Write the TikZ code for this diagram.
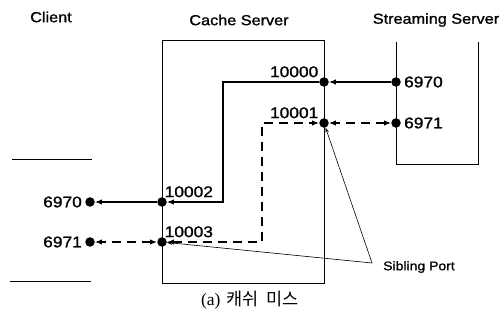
\documentclass[tikz,border=0pt]{standalone}
\usepackage{fontspec}
\setmainfont{Liberation Sans}
\newfontfamily\lblfont[FakeStretch=1.12,FakeBold=1.2]{Liberation Sans}
\newfontfamily\capserif{Liberation Serif}
\newfontfamily\kor{Noto Sans CJK KR}
\usetikzlibrary{arrows.meta}
\begin{document}
\begin{tikzpicture}[x=1pt,y=-1pt,
  title/.style={font=\lblfont\fontsize{14.5}{15}\selectfont},
  portlbl/.style={font=\lblfont\fontsize{15.5}{15}\selectfont,inner sep=1pt},
  port/.style={shape=circle,fill=black,inner sep=0pt,minimum size=9.5pt},
  box/.style={line width=0.8pt},
  flow/.style={line width=1.3pt,-{Latex[length=7pt,width=5.5pt]}},
  ctrl/.style={line width=1.3pt,dash pattern=on 9pt off 6pt,{Latex[length=7pt,width=5.5pt]}-{Latex[length=7pt,width=5.5pt]}},
  pointer/.style={line width=0.6pt,-{Stealth[length=5pt,width=3.5pt]}}]
 \useasboundingbox (0,0) rectangle (501,323);
 % titles
 \node (client) at (51,17) [title] {Client};
 \node (cache) at (239,20) [title] {Cache Server};
 \node (stream) at (436,20) [title] {Streaming Server};
 % outlines
 \draw[box] (162,40) rectangle (324,283);
 \draw[box] (396,42) -- (396,164) -- (478,164) -- (478,42);
 \draw[box] (12,159) -- (92,159);
 \draw[box] (10,281) -- (91,281);
 % ports
 \node (port 10000) at (324,82) [port] {};
 \node (port 10001) at (324,123) [port] {};
 \node (port 10002) at (162,202) [port] {};
 \node (port 10003) at (162,242) [port] {};
 \node (srv 6970) at (396,82) [port] {};
 \node (srv 6971) at (396,123) [port] {};
 \node (cli 6970) at (90,202) [port] {};
 \node (cli 6971) at (90,242) [port] {};
 \node at (port 10000.north west) [portlbl,anchor=south east,xshift=-1pt] {10000};
 \node at (port 10001.north west) [portlbl,anchor=south east,xshift=-1pt] {10001};
 \node at (port 10002.north east) [portlbl,anchor=south west,xshift=-2pt] {10002};
 \node at (port 10003.north east) [portlbl,anchor=south west,xshift=-2pt] {10003};
 \node at (srv 6970.east) [portlbl,anchor=west,xshift=2pt] {6970};
 \node at (srv 6971.east) [portlbl,anchor=west,xshift=2pt] {6971};
 \node at (cli 6970.west) [portlbl,anchor=east,xshift=-2pt] {6970};
 \node at (cli 6971.west) [portlbl,anchor=east,xshift=-2pt] {6971};
 % connections
 \coordinate (bend 1) at (223,82);
 \coordinate (bend 2) at (262,123);
 \draw[flow] (srv 6970) -- (port 10000);
 \draw[flow,line width=1.2pt] (port 10000) -- (bend 1) |- (port 10002);
 \draw[flow] (port 10002) -- (cli 6970);
 \draw[ctrl] (srv 6971) -- (port 10001);
 \draw[ctrl] (port 10003) -| (bend 2) -- (port 10001);
 \draw[ctrl] (port 10003) -- (cli 6971);
 % sibling port
 \node (sibling) at (382,267) [anchor=west,font=\lblfont\fontsize{12.5}{12}\selectfont,inner sep=1pt] {Sibling Port};
 \coordinate (sib tip) at (372,263);
 \draw[pointer] (sib tip) -- (port 10001);
 \draw[pointer] (sib tip) -- (port 10003);
 % caption
 \node (caption) at (250,300) [font=\fontsize{17.5}{17}\selectfont] {{\capserif (a)}\hspace{6pt}{\kor 캐쉬\hspace{8pt}미스}};
\end{tikzpicture}
\end{document}
